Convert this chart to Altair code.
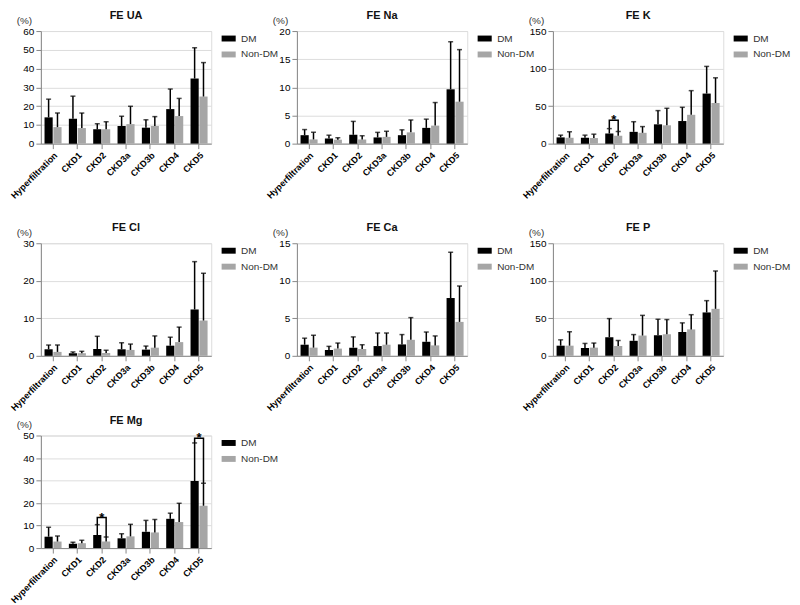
import altair as alt
import pandas as pd

categories = ["Hyperfiltration", "CKD1", "CKD2", "CKD3a", "CKD3b", "CKD4", "CKD5"]
groups = ["DM", "Non-DM"]

# FE UA
ua_dm = [14.0, 13.3, 7.6, 9.4, 8.5, 18.4, 34.7]
ua_dm_err = [23.7, 25.3, 10.6, 14.6, 12.7, 29.1, 51.1]
ua_non = [8.8, 8.3, 7.6, 10.4, 9.4, 14.7, 25.1]
ua_non_err = [16.3, 16.3, 11.6, 19.9, 14.4, 24.1, 43.2]

# FE Na
na_dm = [1.5, 0.93, 1.57, 1.1, 1.5, 2.8, 9.65]
na_dm_err = [2.5, 1.5, 3.95, 2.0, 2.45, 4.35, 18.1]
na_non = [0.75, 0.7, 0.75, 1.2, 2.0, 3.2, 7.45]
na_non_err = [2.0, 1.05, 1.4, 2.2, 4.2, 7.3, 16.7]

# FE K
k_dm = [8.3, 7.8, 13.5, 15.7, 25.7, 30.1, 66.7]
k_dm_err = [11.3, 11.3, 20.0, 29.2, 44.0, 48.4, 102.9]
k_non = [7.8, 7.4, 10.5, 14.4, 24.4, 38.4, 54.1]
k_non_err = [15.7, 12.6, 16.1, 22.7, 47.1, 70.6, 87.7]

# FE Cl
cl_dm = [1.74, 0.7, 1.83, 1.74, 1.65, 2.7, 12.35]
cl_dm_err = [2.87, 1.04, 5.2, 3.48, 2.6, 4.96, 25.1]
cl_non = [1.04, 0.7, 0.78, 1.57, 2.17, 3.65, 9.4]
cl_non_err = [2.87, 1.2, 1.48, 3.13, 5.3, 7.65, 22.0]

# FE Ca
ca_dm = [1.48, 0.78, 1.09, 1.3, 1.52, 1.87, 7.7]
ca_dm_err = [2.35, 1.26, 2.52, 3.04, 2.83, 3.17, 13.8]
ca_non = [1.09, 0.96, 0.91, 1.48, 2.13, 1.39, 4.52]
ca_non_err = [2.74, 1.7, 1.48, 3.04, 5.09, 2.65, 9.3]

# FE P
p_dm = [13.5, 10.4, 24.8, 20.0, 27.4, 31.7, 57.8]
p_dm_err = [21.3, 16.5, 49.6, 28.3, 48.7, 43.9, 73.5]
p_non = [13.5, 10.9, 13.0, 27.0, 28.7, 35.2, 62.6]
p_non_err = [32.2, 17.0, 20.4, 53.9, 48.3, 54.8, 113.0]

# FE Mg
mg_dm = [5.06, 1.88, 5.78, 4.34, 7.23, 13.0, 29.8]
mg_dm_err = [9.25, 2.6, 10.4, 6.36, 12.3, 15.5, 46.7]
mg_non = [2.9, 2.17, 2.9, 5.2, 6.94, 11.56, 18.8]
mg_non_err = [5.35, 3.47, 4.9, 10.55, 12.7, 19.9, 28.8]

# significance brackets: (category, bracket level, star level)
k_sig = [("CKD2", 31.0, 36.0)]
mg_sig = [("CKD2", 13.6, 14.8), ("CKD5", 48.8, 50.2)]

FONT = "Liberation Sans"
PW, PH = 171, 113


def panel(title, dm, dm_err, non, non_err, ymax, ystep, sig=None):
    df = pd.DataFrame({
        "cat": categories * 2,
        "grp": ["DM"] * len(categories) + ["Non-DM"] * len(categories),
        "val": dm + non,
        "err": dm_err + non_err,
    })
    x = alt.X("cat:N", sort=categories,
              scale=alt.Scale(paddingInner=0.3, paddingOuter=0.15),
              axis=alt.Axis(title=None, labelAngle=-45, labelFontSize=9,
                            labelFontWeight="bold", labelPadding=2))
    xo = alt.XOffset("grp:N", sort=groups, scale=alt.Scale(paddingInner=0.08))
    yaxis = alt.Axis(values=list(range(0, ymax + 1, ystep)), title="(%)",
                     titleAngle=0, titleX=-17, titleY=-11, titleAlign="center",
                     titleBaseline="middle", titleFontWeight="normal",
                     titleFontSize=10, titleColor="#333", titleFont=FONT)
    ysc = alt.Scale(domain=[0, ymax], nice=False)
    color = alt.Color("grp:N", sort=groups,
                      scale=alt.Scale(domain=groups, range=["#000000", "#a6a6a6"]),
                      legend=alt.Legend(title=None, orient="right", offset=10, padding=0,
                                        symbolType="M-1,-0.42H1V0.42H-1Z", symbolSize=200,
                                        symbolStrokeWidth=0, labelFontSize=10,
                                        labelFont=FONT, labelColor="#333",
                                        labelOffset=5, rowPadding=3))
    base = alt.Chart(df)
    bars = base.mark_bar().encode(
        x=x, xOffset=xo, y=alt.Y("val:Q", scale=ysc, axis=yaxis), color=color)
    rules = base.mark_rule(color="black", strokeWidth=1.5).encode(
        x=x, xOffset=xo, y=alt.Y("val:Q", scale=ysc, axis=yaxis), y2="err:Q")
    caps = base.mark_tick(color="black", thickness=1.5, size=5,
                          orient="horizontal").encode(
        x=x, xOffset=xo, y=alt.Y("err:Q", scale=ysc, axis=yaxis))
    layers = [bars, rules, caps]
    if sig:
        rows = []
        stars = []
        for cat, br, st in sig:
            i = categories.index(cat)
            rows += [
                {"cat": cat, "grp": "DM", "yv": dm_err[i], "ord": 0},
                {"cat": cat, "grp": "DM", "yv": br, "ord": 1},
                {"cat": cat, "grp": "Non-DM", "yv": br, "ord": 2},
                {"cat": cat, "grp": "Non-DM", "yv": non_err[i], "ord": 3},
            ]
            stars.append({"cat": cat, "yv": st})
        bdf = pd.DataFrame(rows)
        sdf = pd.DataFrame(stars)
        brk = alt.Chart(bdf).mark_line(color="black", strokeWidth=1.5).encode(
            x=x, xOffset=xo, y=alt.Y("yv:Q", scale=ysc, axis=yaxis),
            order="ord:Q", detail="cat:N")
        star = alt.Chart(sdf).mark_text(text="*", fontSize=13, fontWeight="bold",
                                        font=FONT, baseline="middle", dy=3).encode(
            x=x, y=alt.Y("yv:Q", scale=ysc, axis=yaxis))
        layers += [brk, star]
    return alt.layer(*layers).properties(
        width=PW, height=PH,
        title=alt.Title(title, fontSize=11, fontWeight="bold", font=FONT,
                        anchor="middle", frame="group", offset=-6, color="#111"))


p1 = panel("FE UA", ua_dm, ua_dm_err, ua_non, ua_non_err, 60, 10)
p2 = panel("FE Na", na_dm, na_dm_err, na_non, na_non_err, 20, 5)
p3 = panel("FE K", k_dm, k_dm_err, k_non, k_non_err, 150, 50, k_sig)
p4 = panel("FE Cl", cl_dm, cl_dm_err, cl_non, cl_non_err, 30, 10)
p5 = panel("FE Ca", ca_dm, ca_dm_err, ca_non, ca_non_err, 15, 5)
p6 = panel("FE P", p_dm, p_dm_err, p_non, p_non_err, 150, 50)
p7 = panel("FE Mg", mg_dm, mg_dm_err, mg_non, mg_non_err, 50, 10, mg_sig)


def ind(c):
    return c.resolve_scale(color="independent", y="independent", x="independent") \
            .resolve_legend(color="independent")


row1 = ind(alt.hconcat(p1, p2, p3, spacing=86, bounds="flush"))
row2 = ind(alt.hconcat(p4, p5, p6, spacing=86, bounds="flush"))
row3 = ind(alt.hconcat(p7, spacing=86, bounds="flush"))
top = ind(alt.vconcat(row1, row2, spacing=20))
chart = ind(alt.vconcat(top, row3, spacing=0)).properties(
    padding={"left": 0, "top": 0, "right": 0, "bottom": 0}
).configure_view(stroke=None).configure_axis(
    grid=False, labelFont=FONT, labelFontWeight="bold", labelFontSize=9,
    labelColor="#222", domainColor="#000", tickColor="#000",
    domainWidth=1.5, tickWidth=1.5, tickSize=4
).configure(background="white")

chart.save("out.html", embed_options={"renderer": "svg", "actions": False})
